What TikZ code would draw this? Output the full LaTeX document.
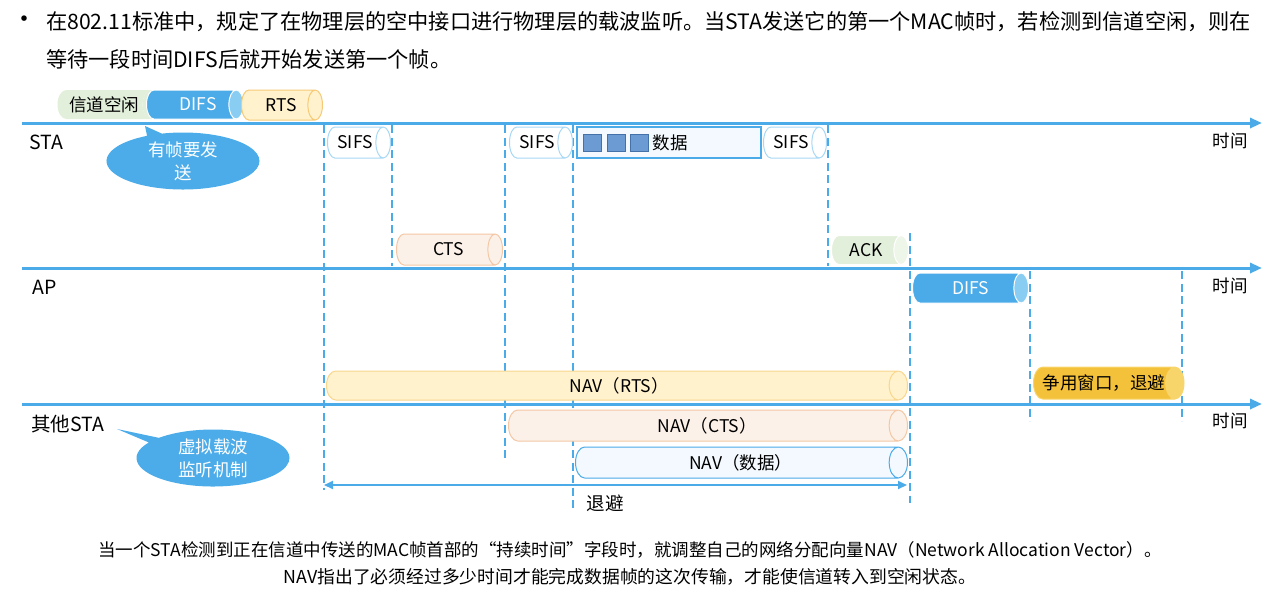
\documentclass[tikz,border=0pt]{standalone}
\usepackage{fontspec}
\setmainfont{Noto Sans CJK SC}
\usetikzlibrary{shapes.geometric,shapes.callouts,arrows.meta}
\definecolor{tl}{HTML}{4BAAE8}
\definecolor{difs}{HTML}{4AABE8}
\definecolor{difsend}{HTML}{8ACDF3}
\definecolor{idle}{HTML}{E2EFDA}
\definecolor{rtsfill}{HTML}{FFF2CC}
\definecolor{rtsdraw}{HTML}{F6C977}
\definecolor{navdraw}{HTML}{F8D68D}
\definecolor{ctsfill}{HTML}{FCF1E8}
\definecolor{ctsdraw}{HTML}{F3C7A5}
\definecolor{sifsdraw}{HTML}{A8D8F5}
\definecolor{datafill}{HTML}{F3F9FE}
\definecolor{ackend}{HTML}{EEF5E9}
\definecolor{cwfill}{HTML}{F4C13A}
\definecolor{cwend}{HTML}{F8D56B}
\definecolor{sqfill}{HTML}{6C9BD3}
\definecolor{sqdraw}{HTML}{4472A8}
\definecolor{bub}{HTML}{4BACE9}
\begin{document}
\begin{tikzpicture}[x=1pt,y=-1pt,
  tline/.style={line width=3pt, draw=tl, -{Triangle[length=12pt,width=10pt]}},
  vdash/.style={draw=tl, line width=2.5pt, dash pattern=on 8pt off 4.5pt},
  cyl/.style={cylinder, shape border rotate=0, aspect=1.1, inner sep=0pt, anchor=west, line width=1pt, cylinder uses custom fill, font=\fontsize{17.5}{20}\selectfont},
  len/.style={minimum height=#1},
  thk/.style={minimum width=#1},
  lbl/.style={anchor=west, font=\fontsize{19.5}{22}\selectfont, inner sep=0pt},
  tm/.style={font=\fontsize{17.5}{20}\selectfont, inner sep=0pt},
  sqbox/.style={draw=sqdraw, fill=sqfill, line width=1pt, minimum width=18pt, minimum height=17pt, inner sep=0pt},
  bubble/.style={ellipse callout, fill=bub, text=white, minimum width=153pt, minimum height=57pt, inner sep=0pt, align=center, font=\fontsize{17.5}{23}\selectfont, callout pointer arc=12},
  txt/.style={inner sep=0pt}
]
\useasboundingbox (0,0) rectangle (1266,606);

% header
\node[txt, font=\fontsize{26}{28}\selectfont] (bul) at (25,22) {•};
\node[txt, anchor=west, font=\fontsize{21.2}{25}\selectfont] (h1) at (46,22) {在802.11标准中，规定了在物理层的空中接口进行物理层的载波监听。当STA发送它的第一个MAC帧时，若检测到信道空闲，则在};
\node[txt, anchor=west, font=\fontsize{21.2}{25}\selectfont] (h2) at (46,59) {等待一段时间DIFS后就开始发送第一个帧。};

% dashed verticals
\coordinate (d1t) at (324,125); \coordinate (d1b) at (324,490);
\coordinate (d2t) at (392,125); \coordinate (d2b) at (392,266);
\coordinate (d3t) at (505,125); \coordinate (d3b) at (505,462);
\coordinate (d4t) at (573,125); \coordinate (d4b) at (573,512);
\coordinate (d5t) at (828,125); \coordinate (d5b) at (828,266);
\coordinate (d6t) at (910,233); \coordinate (d6b) at (910,503);
\coordinate (d7t) at (1030,271); \coordinate (d7b) at (1030,421);
\coordinate (d8t) at (1182,271); \coordinate (d8b) at (1182,421);
\foreach \i in {1,...,8} {\draw[vdash] (d\i t) -- (d\i b);}

% timelines
\coordinate (s0) at (22,123); \coordinate (s1) at (1262,123);
\coordinate (a0) at (22,268); \coordinate (a1) at (1262,268);
\coordinate (o0) at (22,404); \coordinate (o1) at (1262,404);
\draw[tline] (s0) -- (s1);
\draw[tline] (a0) -- (a1);
\draw[tline] (o0) -- (o1);

\node[lbl] (lsta) at (29,142) {STA};
\node[lbl] (lap) at (32,287) {AP};
\node[lbl] (lother) at (31,424) {其他STA};
\node[tm] (t1) at (1230,141) {时间};
\node[tm] (t2) at (1230,286) {时间};
\node[tm] (t3) at (1230,421) {时间};

% STA row
\node[cyl, len=103pt, thk=29pt, cylinder body fill=idle, cylinder end fill=idle] (idle) at (57,104.5) {信道空闲};
\node[cyl, draw=white, len=97pt, thk=29pt, cylinder body fill=difs, cylinder end fill=difsend, text=white] (difs1) at (146,104.5) {\hspace*{14pt}DIFS};
\node[cyl, draw=rtsdraw, len=81pt, thk=30pt, cylinder body fill=rtsfill, cylinder end fill=rtsfill] (rts) at (241,105) {\hspace*{6pt}RTS};
\node[cyl, draw=sifsdraw, len=63pt, thk=31pt, cylinder body fill=white, cylinder end fill=white] (sifs1) at (327,142.5) {SIFS};
\node[cyl, draw=sifsdraw, len=63pt, thk=31pt, cylinder body fill=white, cylinder end fill=white] (sifs2) at (509,142.5) {SIFS};
\node[cyl, draw=tl, line width=1.5pt, len=184pt, thk=31pt, cylinder body fill=datafill, cylinder end fill=datafill] (data) at (576,142.5) {};
\node[cyl, draw=sifsdraw, len=63pt, thk=31pt, cylinder body fill=white, cylinder end fill=white] (sifs3) at (763,142.5) {SIFS};
\node[sqbox] (q1) at (592,142.5) {};
\node[sqbox] (q2) at (616,142.5) {};
\node[sqbox] (q3) at (639,142.5) {};
\node[tm] (datatxt) at (670,142.5) {数据};

% AP row
\node[cyl, draw=ctsdraw, len=106pt, thk=31pt, cylinder body fill=ctsfill, cylinder end fill=ctsfill] (cts) at (396,249.5) {\hspace*{6pt}CTS};
\node[cyl, draw=white, len=77pt, thk=29pt, cylinder body fill=idle, cylinder end fill=ackend] (ack) at (831,250) {ACK};
\node[cyl, draw=white, len=116pt, thk=30pt, cylinder body fill=difs, cylinder end fill=difsend, text=white] (difs2) at (912,288) {\hspace*{8pt}DIFS};

% other STA row
\node[cyl, draw=navdraw, len=581pt, thk=29pt, cylinder body fill=rtsfill, cylinder end fill=rtsfill] (navrts) at (326,385.5) {\hspace*{14pt}NAV（RTS）};
\node[cyl, draw=cwend, len=146pt, thk=32pt, cylinder body fill=cwfill, cylinder end fill=cwend] (cw) at (1033,383) {争用窗口，退避};
\node[cyl, draw=ctsdraw, len=399pt, thk=31pt, cylinder body fill=ctsfill, cylinder end fill=ctsfill] (navcts) at (508,425.5) {\hspace*{8pt}NAV（CTS）};
\node[cyl, draw=tl, len=332pt, thk=31pt, cylinder body fill=datafill, cylinder end fill=datafill] (navdata) at (575,462.5) {\hspace*{8pt}NAV（数据）};

% backoff arrow
\coordinate (ba) at (324,485); \coordinate (bb) at (907,485);
\draw[draw=tl, line width=2pt, {Triangle[length=9pt,width=8pt]}-{Triangle[length=9pt,width=8pt]}] (ba) -- (bb);
\node[txt, font=\fontsize{18.5}{22}\selectfont] (backoff) at (605,503) {退避};

% callouts
\coordinate (p1) at (145,126);
\node[bubble, callout absolute pointer={(p1)}] (c1) at (183,161) {有帧要发\\送};
\coordinate (p2) at (117,429);
\node[bubble, callout absolute pointer={(p2)}] (c2) at (213,458) {虚拟载波\\监听机制};

% footer
\node[txt, font=\fontsize{17.5}{21}\selectfont] (f1) at (630,550) {当一个STA检测到正在信道中传送的MAC帧首部的“持续时间”字段时，就调整自己的网络分配向量NAV（Network Allocation Vector）。};
\node[txt, font=\fontsize{17.8}{21}\selectfont] (f2) at (630,577) {NAV指出了必须经过多少时间才能完成数据帧的这次传输，才能使信道转入到空闲状态。};
\end{tikzpicture}
\end{document}
